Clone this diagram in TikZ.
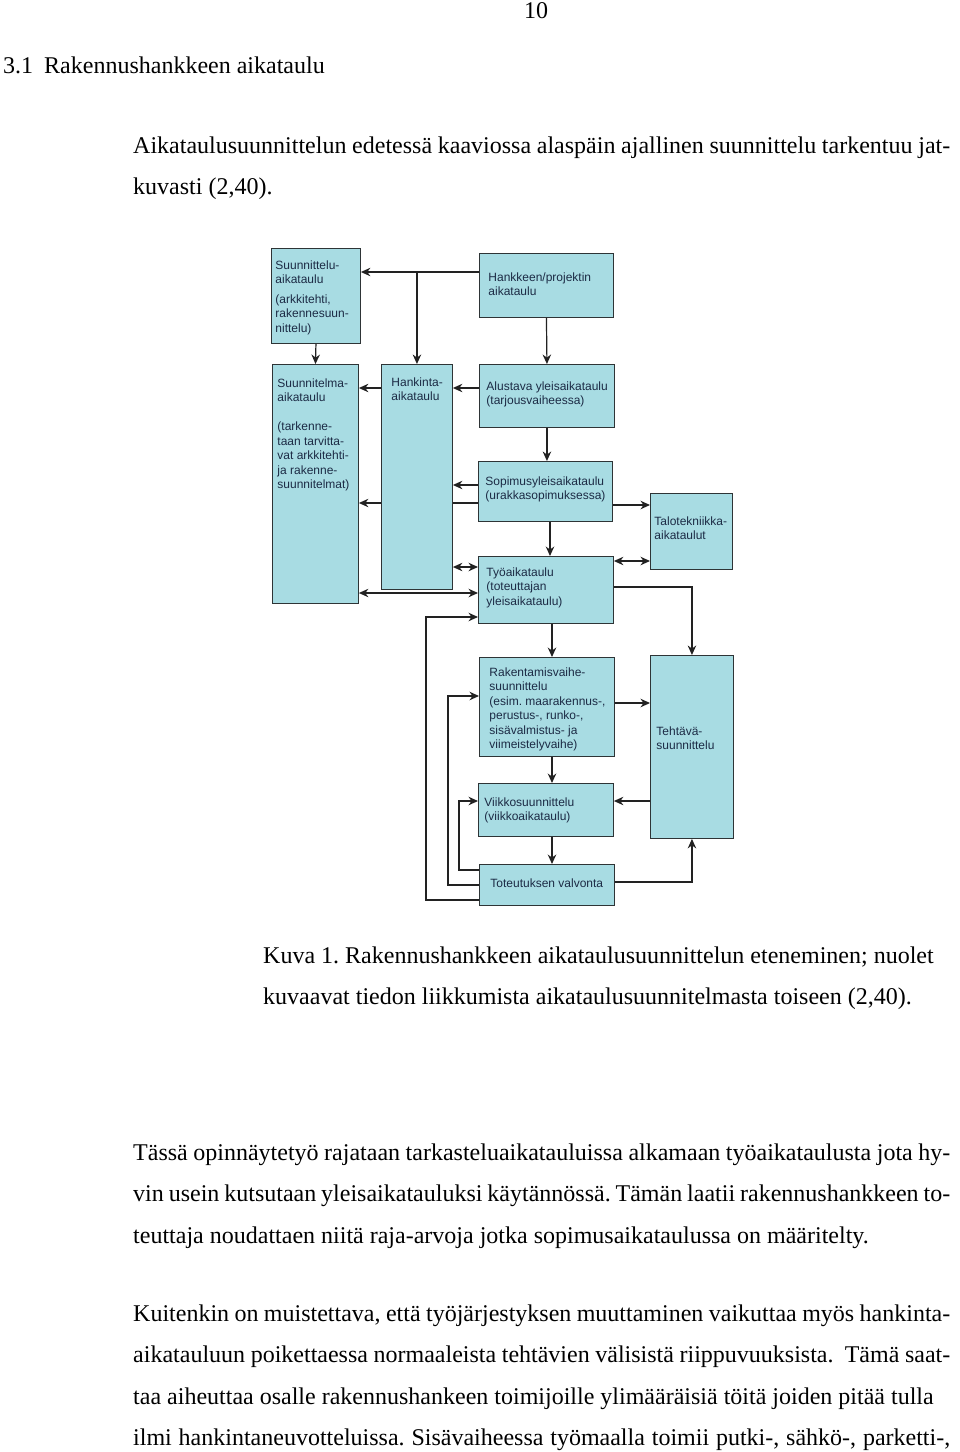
\documentclass[tikz,border=0pt]{standalone}
\usepackage{fontspec}
\setmainfont{Liberation Serif}
\setsansfont{Liberation Sans}
\usetikzlibrary{arrows.meta,backgrounds}

\definecolor{boxfill}{HTML}{A8DCE3}
\definecolor{boxline}{HTML}{2E3436}
\definecolor{boxink}{HTML}{1C2B45}
\definecolor{arrowink}{HTML}{222222}

% top aligned text inside a fixed-size box: width, height, left pad, top pad, text
\newcommand{\cell}[5]{\parbox[c][#2][t]{#1}{\raggedright\leftskip=#3\relax\vspace*{#4}#5}}

\frenchspacing
\begin{document}
\begin{tikzpicture}[
  x=1pt, y=-1pt,
  box/.style={draw=boxline, line width=0.9pt, fill=boxfill, inner sep=0pt, anchor=north west,
    text=boxink, font=\sffamily\fontsize{12}{14.5}\selectfont},
  arr/.style={draw=arrowink, line width=1.2pt, -{Stealth[length=9.5pt,width=8.5pt]}},
  both/.style={draw=arrowink, line width=1.2pt, {Stealth[length=9.5pt,width=8.5pt]}-{Stealth[length=9.5pt,width=8.5pt]}},
  txt/.style={anchor=base west, inner sep=0pt, font=\rmfamily\fontsize{24}{28}\selectfont}
]
\useasboundingbox (0,0) rectangle (960,1452);

% page text
\node[txt, anchor=base] (pagenum) at (536,18) {10};
\node[txt] (heading) at (3,73) {3.1\hspace{11pt}Rakennushankkeen aikataulu};
\node[txt] (intro1) at (133,153) {\makebox[817pt][s]{Aikataulusuunnittelun edetessä kaaviossa alaspäin ajallinen suunnittelu tarkentuu jat-}};
\node[txt] (intro2) at (133,194) {kuvasti (2,40).};

% schedule boxes
\node[box] (suunnittelu) at (271,248) {\cell{89pt}{95pt}{4pt}{12pt}{Suunnittelu-\\aikataulu\\[5pt](arkkitehti,\\rakennesuun-\\nittelu)}};
\node[box] (hanke) at (479,253) {\cell{134pt}{64pt}{9pt}{19pt}{Hankkeen/projektin\\aikataulu}};
\node[box] (suunnitelma) at (272,364) {\cell{86pt}{239pt}{5pt}{14pt}{Suunnitelma-\\aikataulu\\[14.5pt](tarkenne-\\taan tarvitta-\\vat arkkitehti-\\ja rakenne-\\suunnitelmat)}};
\node[box] (hankinta) at (381,364) {\cell{71pt}{225pt}{10pt}{13pt}{Hankinta-\\aikataulu}};
\node[box] (alustava) at (479,364) {\cell{135pt}{63pt}{7pt}{17pt}{Alustava yleisaikataulu\\(tarjousvaiheessa)}};
\node[box] (sopimus) at (478,461) {\cell{134pt}{60pt}{7pt}{15pt}{Sopimusyleisaikataulu\\(urakkasopimuksessa)}};
\node[box] (talotek) at (650,493) {\cell{82pt}{76pt}{4pt}{23pt}{Talotekniikka-\\aikataulut}};
\node[box] (tyo) at (478,556) {\cell{135pt}{67pt}{8pt}{11pt}{Työaikataulu\\(toteuttajan\\yleisaikataulu)}};
\node[box] (rakvaihe) at (479,657) {\cell{135pt}{99pt}{10pt}{10pt}{Rakentamisvaihe-\\suunnittelu\\(esim. maarakennus-,\\perustus-, runko-,\\sisävalmistus- ja\\viimeistelyvaihe)}};
\node[box] (tehtava) at (650,655) {\cell{83pt}{183pt}{6pt}{71pt}{Tehtävä-\\suunnittelu}};
\node[box] (viikko) at (478,783) {\cell{135pt}{53pt}{6pt}{14pt}{Viikkosuunnittelu\\(viikkoaikataulu)}};
\node[box] (valvonta) at (479,864) {\cell{135pt}{41pt}{11pt}{14pt}{Toteutuksen valvonta}};

% connectors
\draw[arr] (hanke.west |- 0,272) -- (suunnittelu.east |- 0,272);
\draw[arr] (hanke.west |- 0,272) -| (hankinta.north);
\draw[arr] (suunnittelu.south) -- (suunnitelma.north);
\draw[arr] (hanke.south) -- (alustava.north);
\draw[arr] (alustava.west |- 0,388) -- (hankinta.east |- 0,388);
\draw[arr] (hankinta.west |- 0,388) -- (suunnitelma.east |- 0,388);
\draw[arr] (sopimus.west |- 0,485) -- (hankinta.east |- 0,485);
\begin{scope}[on background layer]
  \draw[arr] (sopimus.west |- 0,503) -- (suunnitelma.east |- 0,503);
\end{scope}
\draw[both] (hankinta.east |- 0,567) -- (tyo.west |- 0,567);
\draw[both] (suunnitelma.east |- 0,593) -- (tyo.west |- 0,593);
\draw[arr] (alustava.south) -- (alustava.south |- sopimus.north);
\draw[arr] (sopimus.south -| 550,0) -- (tyo.north -| 550,0);
\draw[arr] (sopimus.east |- 0,505) -- (talotek.west |- 0,505);
\draw[both] (talotek.west |- 0,561) -- (tyo.east |- 0,561);
\draw[arr] (tyo.east |- 0,587) -| (tehtava.north);
\draw[arr] (tyo.south -| 552,0) -- (rakvaihe.north -| 552,0);
\draw[arr] (rakvaihe.east |- 0,703) -- (tehtava.west |- 0,703);
\draw[arr] (rakvaihe.south -| 552,0) -- (viikko.north -| 552,0);
\draw[arr] (tehtava.west |- 0,801) -- (viikko.east |- 0,801);
\draw[arr] (viikko.south -| 552,0) -- (valvonta.north -| 552,0);
\draw[arr] (valvonta.east |- 0,882) -| (tehtava.south);
\draw[arr] (valvonta.west |- 0,870) -- ++(-20,0) |- (viikko.west |- 0,801);
\draw[arr] (valvonta.west |- 0,885) -- ++(-31,0) |- (rakvaihe.west |- 0,696);
\draw[arr] (valvonta.west |- 0,900) -- ++(-53,0) |- (tyo.west |- 0,617);

% caption and body
\node[txt] (cap1) at (263,963) {Kuva 1. Rakennushankkeen aikataulusuunnittelun eteneminen; nuolet};
\node[txt] (cap2) at (263,1004) {kuvaavat tiedon liikkumista aikataulusuunnitelmasta toiseen (2,40).};
\node[txt] (p1a) at (133,1160) {\makebox[817pt][s]{Tässä opinnäytetyö rajataan tarkasteluaikatauluissa alkamaan työaikataulusta jota hy-}};
\node[txt] (p1b) at (133,1201) {\makebox[817pt][s]{vin usein kutsutaan yleisaikatauluksi käytännössä. Tämän laatii rakennushankkeen to-}};
\node[txt] (p1c) at (133,1243) {teuttaja noudattaen niitä raja-arvoja jotka sopimusaikataulussa on määritelty.};
\node[txt] (p2a) at (133,1321) {\makebox[817pt][s]{Kuitenkin on muistettava, että työjärjestyksen muuttaminen vaikuttaa myös hankinta-}};
\node[txt] (p2b) at (133,1362) {\makebox[817pt][s]{aikatauluun poikettaessa normaaleista tehtävien välisistä riippuvuuksista.\ \ Tämä saat-}};
\node[txt] (p2c) at (133,1404) {taa aiheuttaa osalle rakennushankeen toimijoille ylimääräisiä töitä joiden pitää tulla};
\node[txt] (p2d) at (133,1445) {\makebox[817pt][s]{ilmi hankintaneuvotteluissa. Sisävaiheessa työmaalla toimii putki-, sähkö-, parketti-,}};
\end{tikzpicture}
\end{document}
